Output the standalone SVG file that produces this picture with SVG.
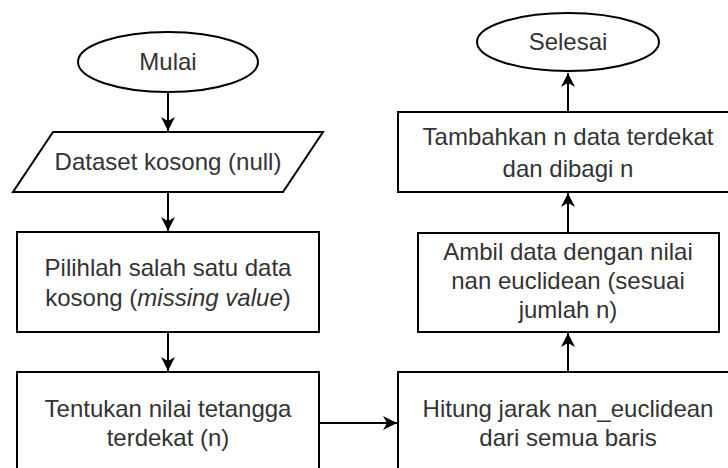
<svg xmlns="http://www.w3.org/2000/svg" width="728" height="468" viewBox="0 0 728 468">
<style>
.s{fill:#fff;stroke:#000;stroke-width:2}
.t{font-family:"Liberation Sans",Arial,sans-serif;font-size:24px;fill:#333;text-anchor:middle}
.c{fill:none;stroke:#000;stroke-width:2}
</style>
<defs>
<marker id="a" viewBox="0 0 14 14" refX="14" refY="7" markerWidth="14" markerHeight="14" markerUnits="userSpaceOnUse" orient="auto">
<path d="M0,0 L14,7 L0,14 L4,7 Z" fill="#000"/>
</marker>
</defs>
<rect width="728" height="468" fill="#fff"/>
<g id="connectors">
<line class="c" x1="168" y1="92" x2="168" y2="131" marker-end="url(#a)"/>
<line class="c" x1="168" y1="192" x2="168" y2="231" marker-end="url(#a)"/>
<line class="c" x1="168" y1="332" x2="168" y2="371" marker-end="url(#a)"/>
<line class="c" x1="319" y1="423" x2="397" y2="423" marker-end="url(#a)"/>
<line class="c" x1="568" y1="372" x2="568" y2="333" marker-end="url(#a)"/>
<line class="c" x1="568" y1="233" x2="568" y2="193" marker-end="url(#a)"/>
<line class="c" x1="568" y1="112" x2="568" y2="73" marker-end="url(#a)"/>
</g>
<g id="mulai">
<ellipse class="s" cx="168" cy="62" rx="90" ry="30"/>
<text class="t" x="168" y="70">Mulai</text>
</g>
<g id="dataset">
<polygon class="s" points="53,132 323,132 283,192 13,192"/>
<text class="t" x="168" y="170">Dataset kosong (null)</text>
</g>
<g id="pilih">
<rect class="s" x="17" y="232" width="302" height="100"/>
<text class="t" x="168" y="276">Pilihlah salah satu data</text>
<text class="t" x="168" y="306">kosong (<tspan font-style="italic">missing value</tspan>)</text>
</g>
<g id="tentukan">
<rect class="s" x="17" y="372" width="302" height="102"/>
<text class="t" x="168" y="417">Tentukan nilai tetangga</text>
<text class="t" x="168" y="446">terdekat (n)</text>
</g>
<g id="hitung">
<rect class="s" x="398" y="372" width="340" height="102"/>
<text class="t" x="568" y="417">Hitung jarak nan_euclidean</text>
<text class="t" x="568" y="446">dari semua baris</text>
</g>
<g id="ambil">
<rect class="s" x="418" y="233" width="301" height="99"/>
<text class="t" x="568" y="260">Ambil data dengan nilai</text>
<text class="t" x="568" y="289">nan euclidean (sesuai</text>
<text class="t" x="568" y="318">jumlah n)</text>
</g>
<g id="tambahkan">
<rect class="s" x="398" y="112" width="340" height="80"/>
<text class="t" x="568" y="145">Tambahkan n data terdekat</text>
<text class="t" x="568" y="177">dan dibagi n</text>
</g>
<g id="selesai">
<ellipse class="s" cx="568" cy="42" rx="91" ry="29"/>
<text class="t" x="568" y="50">Selesai</text>
</g>
</svg>
